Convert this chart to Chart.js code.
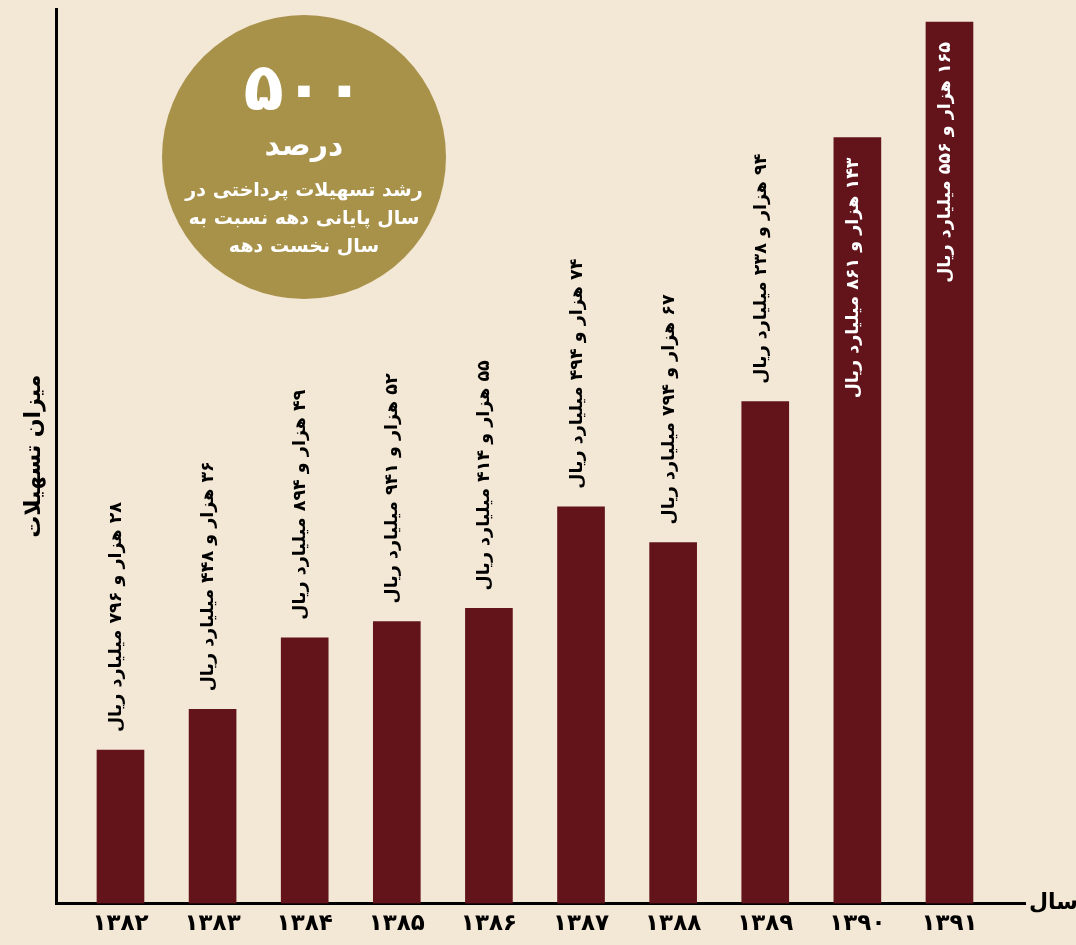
<!DOCTYPE html>
<html lang="fa">
<head>
<meta charset="utf-8">
<script src="https://cdn.jsdelivr.net/npm/chart.js@4.4.1/dist/chart.umd.min.js"></script>
<style>
  html,body{margin:0;padding:0;background:#F3E7D5;}
  #wrap{position:relative;width:1076px;height:945px;background:#F3E7D5;}
  #c{position:absolute;left:0;top:0;}
  #badge{position:absolute;left:162px;top:15px;width:284px;height:284px;border-radius:50%;background:#A8924A;color:#fff;
    font-family:"DejaVu Sans",sans-serif;font-weight:bold;text-align:center;direction:rtl;}
  #badge .big{position:absolute;left:0;right:0;top:38px;font-size:66px;line-height:70px;letter-spacing:4px;}
  #badge .mid{position:absolute;left:0;right:0;top:112px;font-size:30px;line-height:36px;}
  #badge .small{position:absolute;left:0;right:0;top:160px;font-size:19px;line-height:28px;}
</style>
</head>
<body>
<div id="wrap">
  <canvas id="c" width="1076" height="945"></canvas>
  <div id="badge">
    <div class="big">۵۰۰</div>
    <div class="mid">درصد</div>
    <div class="small">رشد تسهیلات پرداختی در<br>سال پایانی دهه نسبت به<br>سال نخست دهه</div>
  </div>
</div>
<script>
const years = [1382,1383,1384,1385,1386,1387,1388,1389,1390,1391];
const yearLabels = ['۱۳۸۲','۱۳۸۳','۱۳۸۴','۱۳۸۵','۱۳۸۶','۱۳۸۷','۱۳۸۸','۱۳۸۹','۱۳۹۰','۱۳۹۱'];
const values = [28.796,36.448,49.894,52.941,55.414,74.494,67.794,94.238,143.861,165.556];
const valueLabels = [
  '۲۸ هزار و ۷۹۶ میلیارد ریال',
  '۳۶ هزار و ۴۴۸ میلیارد ریال',
  '۴۹ هزار و ۸۹۴ میلیارد ریال',
  '۵۲ هزار و ۹۴۱ میلیارد ریال',
  '۵۵ هزار و ۴۱۴ میلیارد ریال',
  '۷۴ هزار و ۴۹۴ میلیارد ریال',
  '۶۷ هزار و ۷۹۴ میلیارد ریال',
  '۹۴ هزار و ۲۳۸ میلیارد ریال',
  '۱۴۳ هزار و ۸۶۱ میلیارد ریال',
  '۱۶۵ هزار و ۵۵۶ میلیارد ریال'
];
const yTitle = 'میزان تسهیلات';
const xTitle = 'سال';

const FONT = '"DejaVu Sans", sans-serif';
const BAR = '#63141B';

const labelPlugin = {
  id: 'labels',
  afterDatasetsDraw(chart){
    const ctx = chart.ctx;
    const meta = chart.getDatasetMeta(0);
    const area = chart.chartArea;
    ctx.save();
    ctx.direction = 'rtl';
    ctx.font = 'bold 17.5px ' + FONT;
    ctx.textBaseline = 'middle';
    meta.data.forEach((bar, i) => {
      const w = ctx.measureText(valueLabels[i]).width;
      const inside = (bar.base - bar.y) > w + 60 && (bar.y - area.top) < w + 30;
      ctx.save();
      ctx.translate(bar.x - 4, 0);
      ctx.rotate(-Math.PI/2);
      if (inside) {
        ctx.fillStyle = '#ffffff';
        ctx.textAlign = 'right';
        ctx.fillText(valueLabels[i], -(bar.y + 20), 0);
      } else {
        ctx.fillStyle = '#000000';
        ctx.textAlign = 'left';
        ctx.fillText(valueLabels[i], -(bar.y - 18), 0);
      }
      ctx.restore();
    });
    // axis titles
    ctx.fillStyle = '#000';
    ctx.font = 'bold 22px ' + FONT;
    ctx.save();
    ctx.translate(area.left - 22, (area.top + area.bottom)/2);
    ctx.rotate(-Math.PI/2);
    ctx.textAlign = 'center';
    ctx.fillText(yTitle, 0, 0);
    ctx.restore();
    ctx.font = 'bold 22px ' + FONT;
    ctx.textAlign = 'left';
    ctx.fillText(xTitle, area.right + 4, area.bottom);
    ctx.restore();
  }
};

new Chart(document.getElementById('c'), {
  type: 'bar',
  data: {
    datasets: [{
      data: years.map((y, i) => ({x: y, y: values[i]})),
      backgroundColor: BAR,
      borderWidth: 0,
      barThickness: 47
    }]
  },
  options: {
    responsive: false,
    animation: false,
    events: [],
    layout: {padding: {left: 56, right: 51, top: 9, bottom: 0}},
    plugins: {legend: {display: false}, tooltip: {enabled: false}},
    scales: {
      x: {
        type: 'linear',
        offset: false,
        min: 1381.3,
        max: 1391.82,
        grid: {display: false, drawTicks: false, offset: false},
        border: {display: true, color: '#000', width: 3},
        afterBuildTicks: (scale) => { scale.ticks = years.map(v => ({value: v})); },
        ticks: {
          autoSkip: false,
          maxRotation: 0,
          padding: 7,
          color: '#000',
          font: {family: FONT, size: 23, weight: 'bold'},
          callback: (v) => {
            const i = years.indexOf(v);
            return i >= 0 ? yearLabels[i] : '';
          }
        }
      },
      y: {
        min: 0,
        max: 168,
        grid: {display: false, drawTicks: false},
        border: {display: true, color: '#000', width: 3},
        ticks: {display: false}
      }
    }
  },
  plugins: [labelPlugin]
});
</script>
</body>
</html>
